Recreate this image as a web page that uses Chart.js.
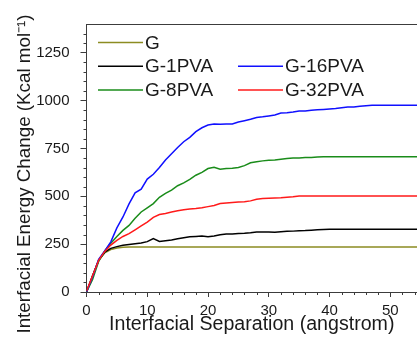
<!DOCTYPE html>
<html>
<head>
<meta charset="utf-8">
<script src="https://cdn.jsdelivr.net/npm/chart.js@4/dist/chart.umd.min.js"></script>
<style>
  html, body { margin: 0; padding: 0; background: #fff; }
  #wrap { width: 417px; height: 343px; position: relative; }
</style>
</head>
<body>
<div id="wrap"><canvas id="chart"></canvas></div>
<script>
// interfacial separation (angstrom), shared by all series
const separation = [0,1,2,3,4,5,6,7,8,9,10,11,12,13,14,15,16,17,18,19,20,21,22,23,24,25,26,27,28,29,30,
  31,32,33,34,35,36,37,38,39,40,41,42,43,44,45,46,47,48,49,50,51,52,53,54,55];

// energy change (Kcal/mol)
const gVals = [0,85,165,205,222,230,234,235,235,235,235,235,235,235,235,235,235,235,235,235,235,
  235,235,235,235,235,235,235,235,235,235,235,235,235,235,235,235,235,235,235,235,
  235,235,235,235,235,235,235,235,235,235,235,235,235,235,235];
const g1pvaVals = [0,85,165,208,228,237,244,248,252,256,263,279,264,268,272,278,283,288,290,292,289,
  293,299,303,303,305,307,310,314,313,313,312,315,317,318,320,321,323,325,327,328,
  328,328,328,328,328,328,328,328,328,328,328,328,328,328,328];
const g8pvaVals = [0,65,160,215,255,290,322,348,385,418,440,462,495,515,532,555,570,588,610,625,645,
  652,641,645,647,650,660,675,680,685,688,690,694,697,700,700,702,703,705,706,707,
  707,707,707,707,707,707,707,707,707,707,707,707,707,707,707];
const g16pvaVals = [0,80,170,215,262,335,392,460,518,537,590,615,650,690,722,755,785,808,838,858,872,
  878,876,877,878,888,895,902,912,915,920,925,935,937,940,945,946,950,952,954,956,
  958,962,966,966,970,973,975,975,975,975,975,975,975,975,975];
const g32pvaVals = [4,85,165,212,245,270,290,305,325,345,365,390,405,410,418,425,430,433,436,440,446,
  452,462,465,468,470,472,476,485,488,490,491,492,495,497,502,502,502,502,502,502,
  502,502,502,502,502,502,502,502,502,502,502,502,502,502,502];

const seriesNames = ['G','G-1PVA','G-8PVA','G-16PVA','G-32PVA'];
const seriesVals = [gVals, g1pvaVals, g8pvaVals, g16pvaVals, g32pvaVals];
const seriesColors = ['#8c8c22','#000000','#1a8c1a','#1010ff','#ff1a1a'];
// legend layout as in the figure: G alone, then two columns
const legendSlots = { 'G':[0,0], 'G-1PVA':[0,1], 'G-16PVA':[1,1], 'G-8PVA':[0,2], 'G-32PVA':[1,2] };

const FONT = '"Liberation Sans", Arial, sans-serif';
const AXIS_COLOR = '#3c3c3c';

function toPoints(vals){ return vals.map((v,i) => ({x: separation[i], y: v})); }

// minor ticks, frame, axis titles and legend
const decorPlugin = {
  id: 'decor',
  afterDraw(chart){
    const ctx = chart.ctx, a = chart.chartArea;
    const xs = chart.scales.x, ys = chart.scales.y;
    ctx.save();
    ctx.strokeStyle = AXIS_COLOR;
    ctx.lineWidth = 1;
    // top frame line
    ctx.beginPath();
    ctx.moveTo(a.left, Math.round(a.top) + 0.5);
    ctx.lineTo(a.right, Math.round(a.top) + 0.5);
    ctx.stroke();
    // minor ticks
    ctx.beginPath();
    for(let v = 50; v < ys.max; v += 50){
      if(v % 250 === 0) continue;
      const py = Math.round(ys.getPixelForValue(v)) + 0.5;
      ctx.moveTo(a.left, py); ctx.lineTo(a.left - 3, py);
    }
    for(let v = 2; v < xs.max; v += 2){
      if(v % 10 === 0) continue;
      const px = Math.round(xs.getPixelForValue(v)) + 0.5;
      ctx.moveTo(px, a.bottom); ctx.lineTo(px, a.bottom + 3);
    }
    ctx.stroke();

    // axis titles
    ctx.fillStyle = '#1a1a1a';
    ctx.textAlign = 'center';
    ctx.textBaseline = 'alphabetic';
    ctx.font = '19.6px ' + FONT;
    ctx.fillText('Interfacial Separation (angstrom)', (a.left + a.right) / 2, 330);
    ctx.save();
    ctx.translate(30, 174);
    ctx.rotate(-Math.PI / 2);
    ctx.font = '18.8px ' + FONT;
    ctx.fillText('Interfacial Energy Change (Kcal mol\u207B\u00B9)', 0, 0);
    ctx.restore();

    // legend
    ctx.font = '19px ' + FONT;
    ctx.textAlign = 'left';
    ctx.textBaseline = 'middle';
    chart.data.datasets.forEach(ds => {
      const slot = legendSlots[ds.label];
      const lx = a.left + 11.5 + slot[0] * 140;
      const ly = a.top + 18.5 + slot[1] * 23.7;
      ctx.strokeStyle = ds.borderColor;
      ctx.lineWidth = 1.5;
      ctx.beginPath();
      ctx.moveTo(lx, ly); ctx.lineTo(lx + 45, ly);
      ctx.stroke();
      ctx.fillStyle = '#1a1a1a';
      ctx.fillText(ds.label, lx + 47, ly + 1);
    });
    ctx.restore();
  }
};

new Chart(document.getElementById('chart'), {
  type: 'line',
  data: {
    datasets: seriesNames.map((name, i) => ({
      label: name,
      data: toPoints(seriesVals[i]),
      borderColor: seriesColors[i],
      borderWidth: 1.5,
      pointRadius: 0,
      tension: 0,
      order: seriesNames.length - i
    }))
  },
  options: {
    responsive: true,
    maintainAspectRatio: false,
    animation: false,
    layout: { padding: { top: 24, right: 0, left: 0, bottom: 0 } },
    plugins: { legend: { display: false }, tooltip: { enabled: false } },
    scales: {
      x: {
        type: 'linear',
        min: 0,
        max: 54.4,
        afterFit(scale){ scale.height = 51; },
        border: { display: true, color: AXIS_COLOR, width: 1 },
        grid: { drawOnChartArea: false, tickLength: 5, color: AXIS_COLOR },
        ticks: { stepSize: 10, includeBounds: false, padding: 5, color: '#1a1a1a', font: { family: FONT, size: 15 }, maxRotation: 0, callback: v => String(v) }
      },
      y: {
        min: 0,
        max: 1400,
        afterFit(scale){ scale.width = 86.5; },
        border: { display: true, color: AXIS_COLOR, width: 1 },
        grid: { drawOnChartArea: false, tickLength: 6, color: AXIS_COLOR },
        ticks: { stepSize: 250, includeBounds: false, padding: 11, color: '#1a1a1a', font: { family: FONT, size: 15 }, callback: v => String(v) }
      }
    }
  },
  plugins: [decorPlugin]
});
</script>
</body>
</html>
